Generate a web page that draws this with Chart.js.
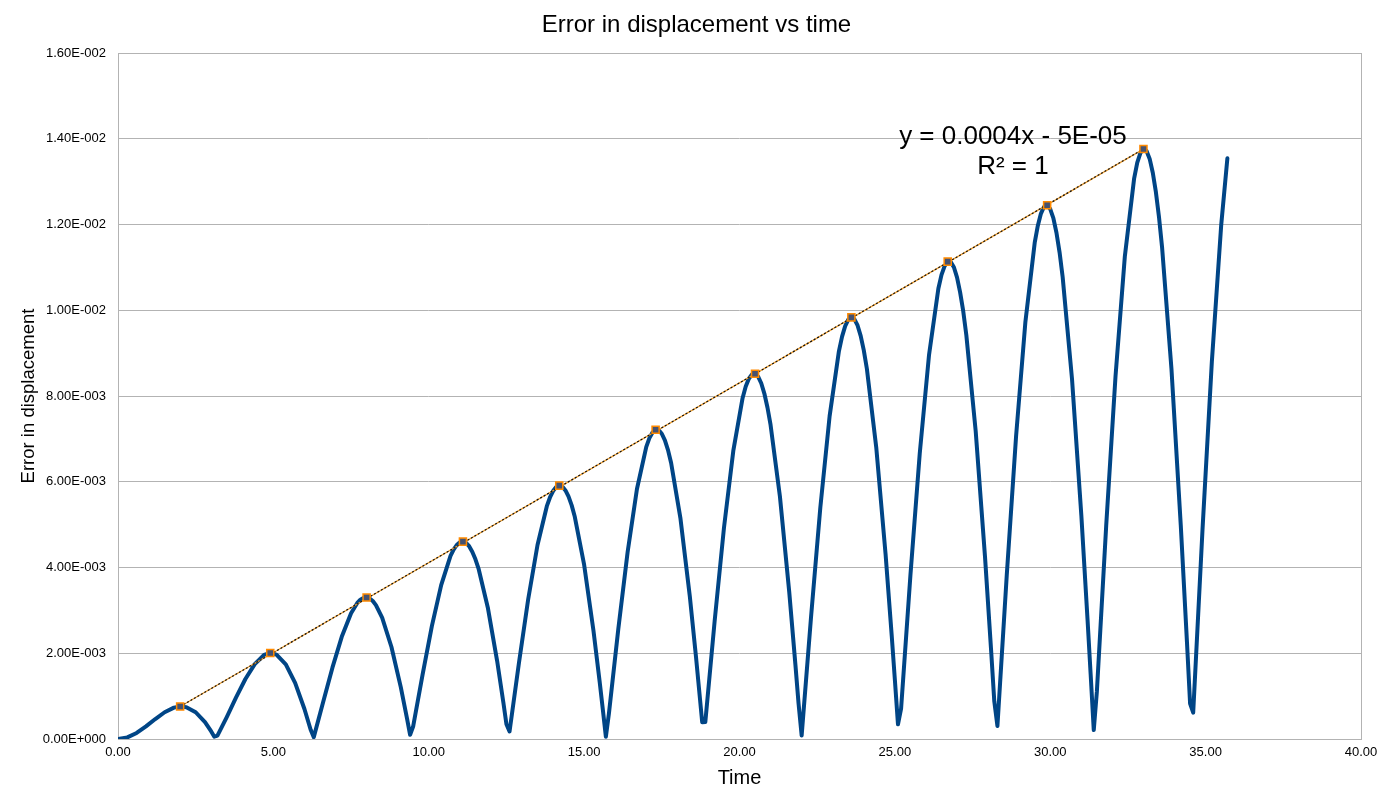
<!DOCTYPE html>
<html>
<head>
<meta charset="utf-8">
<title>Error in displacement vs time</title>
<script src="https://cdn.jsdelivr.net/npm/chart.js@4/dist/chart.umd.min.js"></script>
<style>
  html, body { margin: 0; padding: 0; background: #fff; }
  #chart-wrapper { width: 1393px; height: 808px; position: relative; }
</style>
</head>
<body>
<div id="chart-wrapper"><canvas id="errorCanvas"></canvas></div>
<script>
const times = [
  0, 0.3, 0.6, 0.9, 1.2, 1.5, 1.8, 2.0, 2.2, 2.5, 2.8, 3.0, 3.1,
  3.2, 3.5, 3.8, 4.1, 4.4, 4.7, 4.9, 5.1, 5.4, 5.7, 6.0, 6.2,
  6.3, 6.6, 6.9, 7.2, 7.5, 7.7, 7.8, 7.9, 8.0, 8.1, 8.2, 8.3, 8.5, 8.8, 9.1, 9.3, 9.4,
  9.5, 9.8, 10.1, 10.4, 10.7, 10.8, 10.9, 11.0, 11.1, 11.2, 11.3, 11.4, 11.5, 11.6, 11.9, 12.2, 12.4, 12.5,
  12.6, 12.9, 13.2, 13.5, 13.8, 13.9, 14.0, 14.1, 14.2, 14.3, 14.4, 14.5, 14.6, 14.7, 15.0, 15.3, 15.5, 15.6, 15.7,
  15.8, 16.1, 16.4, 16.7, 17.0, 17.1, 17.2, 17.3, 17.4, 17.5, 17.6, 17.7, 17.8, 18.1, 18.4, 18.6, 18.8,
  18.9, 19.2, 19.5, 19.8, 20.1, 20.2, 20.3, 20.4, 20.5, 20.6, 20.7, 20.8, 20.9, 21.0, 21.3, 21.6, 21.8, 21.9,
  22.0, 22.3, 22.6, 22.9, 23.2, 23.3, 23.4, 23.5, 23.6, 23.7, 23.8, 23.9, 24.0, 24.1, 24.4, 24.7, 24.9, 25.0, 25.1,
  25.2, 25.5, 25.8, 26.1, 26.4, 26.5, 26.6, 26.7, 26.8, 26.9, 27.0, 27.1, 27.2, 27.3, 27.6, 27.9, 28.1, 28.2,
  28.3, 28.6, 28.9, 29.2, 29.5, 29.6, 29.7, 29.8, 29.9, 30.0, 30.1, 30.2, 30.3, 30.4, 30.7, 31.0, 31.2, 31.3, 31.4,
  31.5, 31.8, 32.1, 32.4, 32.7, 32.8, 32.9, 33.0, 33.1, 33.2, 33.3, 33.4, 33.5, 33.6, 33.9, 34.2, 34.4, 34.5,
  34.6, 34.9, 35.2, 35.5, 35.7
];
const errors = [
  0, 0.000037, 0.000141, 0.000294, 0.000466, 0.000624, 0.000731, 0.000758, 0.000742, 0.000624, 0.000391, 0.000177, 0.000054,
  0.000078, 0.000512, 0.000969, 0.001399, 0.001745, 0.00196, 0.002007, 0.001969, 0.00174, 0.001309, 0.0007, 0.000215,
  0.000044, 0.000857, 0.001664, 0.002383, 0.002934, 0.003173, 0.003248, 0.003291, 0.0033, 0.003276, 0.003217, 0.003122, 0.002831, 0.002146, 0.001211, 0.000482, 0.000097,
  0.000298, 0.001498, 0.002632, 0.00359, 0.004269, 0.004417, 0.004525, 0.004587, 0.004603, 0.004573, 0.004496, 0.004367, 0.004197, 0.003981, 0.003068, 0.001824, 0.000856, 0.000346,
  0.000177, 0.001762, 0.003259, 0.004524, 0.00543, 0.005633, 0.005783, 0.005876, 0.00591, 0.005886, 0.005798, 0.005653, 0.005449, 0.005182, 0.004066, 0.002531, 0.001334, 0.000701, 0.000052,
  0.000605, 0.002565, 0.004363, 0.005831, 0.006815, 0.007017, 0.00715, 0.007212, 0.007203, 0.00712, 0.006966, 0.006738, 0.006438, 0.005144, 0.003334, 0.001915, 0.000388,
  0.000397, 0.002749, 0.004924, 0.006719, 0.007955, 0.00822, 0.008403, 0.008505, 0.008521, 0.008452, 0.008297, 0.008057, 0.007732, 0.007326, 0.005662, 0.003434, 0.001726, 0.000831,
  0.000082, 0.002827, 0.005391, 0.007531, 0.009048, 0.009384, 0.009629, 0.00978, 0.009834, 0.009789, 0.009645, 0.009402, 0.009063, 0.008629, 0.006806, 0.004319, 0.002394, 0.001379, 0.000342,
  0.000706, 0.003818, 0.006657, 0.008964, 0.010507, 0.010824, 0.011031, 0.011134, 0.011123, 0.011003, 0.010767, 0.010418, 0.009978, 0.009417, 0.007187, 0.004257, 0.002032, 0.000872,
  0.000303, 0.003816, 0.007059, 0.009728, 0.011576, 0.011972, 0.012254, 0.012414, 0.01245, 0.012359, 0.012148, 0.011808, 0.01135, 0.010771, 0.008398, 0.005222, 0.002786, 0.00151, 0.000208,
  0.001103, 0.004969, 0.008457, 0.011253, 0.013078, 0.013442, 0.013667, 0.01376, 0.013714, 0.01353, 0.013208, 0.012755, 0.01217, 0.011457, 0.008639, 0.00499, 0.002253, 0.000826,
  0.000613, 0.004887, 0.008794, 0.011976, 0.013543
];

// peaks used for the trendline
const peakTimes = [2.0, 4.9, 8.0, 11.1, 14.2, 17.3, 20.5, 23.6, 26.7, 29.9, 33.0];
const peakErrors = [0.000758, 0.002007, 0.0033, 0.004603, 0.00591, 0.007212, 0.008521, 0.009834, 0.011134, 0.01245, 0.01376];

const chartTitle = 'Error in displacement vs time';
const trendLabel = ['y = 0.0004x - 5E-05', 'R\u00b2 = 1'];
const trendLabelAt = { x: 28.8, y: 0.01404 };

const FONT = '"Liberation Sans", Arial, sans-serif';
const GRID = '#b3b3b3';

function toPoints(xs, ys) {
  return xs.map((x, i) => ({ x: x, y: ys[i] }));
}

// 1.60E-002 style
function sciLabel(v) {
  if (Math.abs(v) < 1e-12) return '0.00E+000';
  const e = Math.floor(Math.log10(Math.abs(v)) + 1e-9);
  const m = v / Math.pow(10, e);
  return m.toFixed(2) + 'E' + (e < 0 ? '-' : '+') + String(Math.abs(e)).padStart(3, '0');
}

const framePlugin = {
  id: 'plotFrame',
  beforeDatasetsDraw(chart) {
    const { ctx, chartArea: a } = chart;
    ctx.save();
    ctx.strokeStyle = GRID;
    ctx.lineWidth = 1;
    ctx.strokeRect(Math.round(a.left) + 0.5, Math.round(a.top) + 0.5,
      Math.round(a.right - a.left), Math.round(a.bottom - a.top));
    ctx.restore();
  }
};

// title is centred on the whole canvas, not on the plot box
const titlePlugin = {
  id: 'canvasTitle',
  afterDraw(chart) {
    const ctx = chart.ctx;
    ctx.save();
    ctx.fillStyle = '#000';
    ctx.font = '24px ' + FONT;
    ctx.textAlign = 'center';
    ctx.textBaseline = 'middle';
    ctx.fillText(chartTitle, chart.width / 2, 25);
    ctx.restore();
  }
};

const trendTextPlugin = {
  id: 'trendText',
  afterDatasetsDraw(chart) {
    const { ctx, scales } = chart;
    const cx = scales.x.getPixelForValue(trendLabelAt.x);
    const cy = scales.y.getPixelForValue(trendLabelAt.y);
    ctx.save();
    ctx.fillStyle = '#000';
    ctx.font = '26px ' + FONT;
    ctx.textAlign = 'center';
    ctx.textBaseline = 'middle';
    trendLabel.forEach((line, i) => ctx.fillText(line, cx, cy + i * 30));
    ctx.restore();
  }
};

const trendPts = [
  { x: peakTimes[0], y: peakErrors[0] },
  { x: peakTimes[peakTimes.length - 1], y: peakErrors[peakErrors.length - 1] }
];

new Chart(document.getElementById('errorCanvas'), {
  type: 'scatter',
  data: {
    datasets: [
      {
        label: 'peaks',
        data: toPoints(peakTimes, peakErrors),
        pointStyle: 'rect',
        pointRadius: 5,
        pointBorderWidth: 1.5,
        pointBorderColor: '#ff8a00',
        pointBackgroundColor: '#465270',
        showLine: false
      },
      {
        label: 'trend dots',
        data: trendPts,
        showLine: true,
        borderColor: '#111',
        borderWidth: 1.2,
        borderDash: [2, 2],
        pointRadius: 0
      },
      {
        label: 'trend',
        data: trendPts,
        showLine: true,
        borderColor: '#f0a030',
        borderWidth: 1.4,
        pointRadius: 0
      },
      {
        label: 'error',
        data: toPoints(times, errors),
        showLine: true,
        borderColor: '#004586',
        borderWidth: 4,
        borderJoinStyle: 'round',
        borderCapStyle: 'round',
        pointRadius: 0,
        tension: 0
      }
    ]
  },
  options: {
    responsive: true,
    maintainAspectRatio: false,
    animation: false,
    layout: { padding: { left: 0, right: 32, top: 53, bottom: 0 } },
    plugins: {
      legend: { display: false },
      tooltip: { enabled: false },
      title: { display: false }
    },
    scales: {
      x: {
        type: 'linear',
        min: 0,
        max: 40,
        grid: { display: false, drawTicks: false },
        border: { display: false },
        ticks: {
          stepSize: 5,
          padding: 6,
          color: '#000',
          font: { family: FONT, size: 13 },
          maxRotation: 0,
          callback: (v) => Number(v).toFixed(2)
        },
        title: {
          display: true,
          text: 'Time',
          color: '#000',
          font: { family: FONT, size: 20 },
          padding: { top: 0, bottom: 18 }
        },
        afterFit: (s) => { s.height = 69; }
      },
      y: {
        type: 'linear',
        min: 0,
        max: 0.016,
        grid: { color: GRID, drawTicks: false },
        border: { display: false },
        ticks: {
          stepSize: 0.002,
          padding: 12,
          color: '#000',
          font: { family: FONT, size: 13 },
          callback: (v) => sciLabel(v)
        },
        title: {
          display: true,
          text: 'Error in displacement',
          color: '#000',
          font: { family: FONT, size: 18.5 },
          padding: { top: 18, bottom: 0 }
        },
        afterFit: (s) => { s.width = 118; }
      }
    }
  },
  plugins: [framePlugin, trendTextPlugin, titlePlugin]
});
</script>
</body>
</html>
